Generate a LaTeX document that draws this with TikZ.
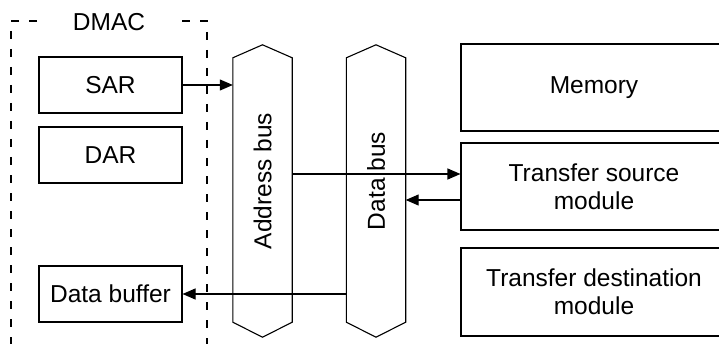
\documentclass[tikz,border=0pt]{standalone}
\usepackage{fontspec}
\setmainfont{Liberation Sans}
\usetikzlibrary{arrows.meta}
\begin{document}
\begin{tikzpicture}[x=1pt, y=1pt, font=\fontsize{24.5}{28}\selectfont, line join=miter, >={Triangle[length=13pt,width=11pt]},
  box/.style={draw, line width=1.1pt, inner sep=0pt, align=center},
  dmacline/.style={line width=1.1pt, dash pattern=on 8pt off 10pt},
  bus/.style={inner sep=0pt, minimum width=59pt, minimum height=264pt},
  conn/.style={line width=1.1pt, ->}]
\clip (0,0) rectangle (719,343);
% DMAC frame
\draw[dmacline] (37,322) -- (11,322) -- (11,-5);
\draw[dmacline] (182,322) -- (207,322) -- (207,-5);
\node (dmac) at (109,321) {DMAC};
% registers
\node[box, minimum width=143pt, minimum height=56pt] (sar)  at (110.5,258) {SAR};
\node[box, minimum width=143pt, minimum height=56pt] (dar)  at (110.5,188) {DAR};
\node[box, minimum width=143pt, minimum height=56pt] (dbuf) at (110.5,49)  {Data buffer};
% buses
\node[bus] (abus) at (262.5,153) {};
\node[bus] (dbus) at (376,153) {};
\draw[line width=1.1pt] (abus.south west) -- (abus.north west) -- ([yshift=13pt]abus.north) -- (abus.north east)
  -- (abus.south east) -- ([yshift=-15pt]abus.south) -- cycle;
\draw[line width=1.1pt] (dbus.south west) -- (dbus.north west) -- ([yshift=13pt]dbus.north) -- (dbus.north east)
  -- (dbus.south east) -- ([yshift=-15pt]dbus.south) -- cycle;
\node[rotate=90] (abustext) at ([yshift=9pt]abus.center) {Address bus};
\node[rotate=90] (dbustext) at ([yshift=9pt]dbus.center) {Data bus};
% modules
\node[box, minimum width=266pt, minimum height=87pt] (mem) at (594,255.5) {Memory};
\node[box, minimum width=266pt, minimum height=87pt] (src) at (594,156.5) {Transfer source\\module};
\node[box, minimum width=266pt, minimum height=88pt] (dst) at (594,51) {Transfer destination\\module};
% transfers
\draw[conn] (sar.east) -- (sar.east -| abus.west);
\draw[conn] (abus.east |- 0,169) -- (src.west |- 0,169);
\draw[conn] (src.west |- 0,143) -- (dbus.east |- 0,143);
\draw[conn] (dbus.west |- dbuf.east) -- (dbuf.east);
\end{tikzpicture}
\end{document}
